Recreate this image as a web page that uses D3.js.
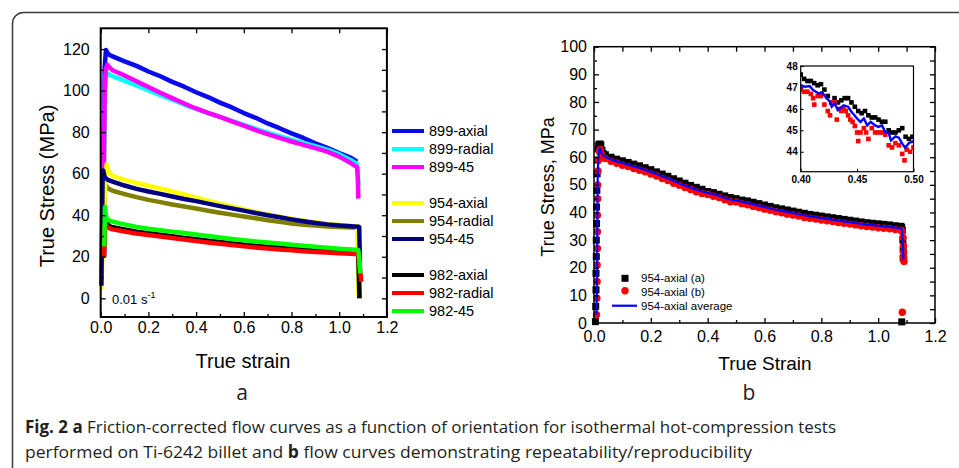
<!DOCTYPE html>
<html lang="en">
<head>
<meta charset="UTF-8">
<title>Fig. 2 flow curves</title>
<style>
  body { margin: 0; background: #fff; }
  svg text { font-family: "Liberation Sans", Arial, sans-serif; fill: #000; }
  .cap text, text.cap { font-family: "Open Sans", "Liberation Sans", sans-serif; fill: #231f20; }
</style>
</head>
<body>
<script src="https://d3js.org/d3.v7.min.js"></script>
<script>
// ---------- panel a : flow curves by orientation ----------
var grid = [0.05, 0.1, 0.15, 0.2, 0.25, 0.3, 0.35, 0.4, 0.45, 0.5, 0.55,
            0.6, 0.65, 0.7, 0.75, 0.8, 0.85, 0.9, 0.95, 1.0, 1.05];

var x899axial = [0.010, 0.013, 0.017, 0.022, 0.03, 0.04].concat(grid, [1.075]);
var y899axial = [30, 75, 112, 119.5, 117.8, 117,
  116.5, 114.1, 111.9, 109.2, 106.9, 104.2, 101.9, 99.2, 96.9, 94.2, 91.9,
  89.2, 86.9, 84.2, 81.9, 79.4, 77.2, 74.6, 72.4, 69.9, 67.6, 65.8];

var x899radial = [0.011, 0.014, 0.018, 0.023, 0.04].concat(grid, [1.075, 1.078, 1.081]);
var y899radial = [20, 65, 100, 108.5, 107.5,
  107.0, 104.8, 102.5, 100.2, 97.8, 95.6, 93.3, 91.2, 89.2, 87.3, 85.4,
  83.5, 81.6, 79.8, 78.1, 76.4, 74.8, 73.2, 71.6, 69.4, 66.5, 64.6, 60, 54];

var x899_45 = [0.011, 0.014, 0.017, 0.022, 0.028, 0.04].concat(grid, [1.075, 1.078, 1.08]);
var y899_45 = [20, 70, 102, 110.5, 112.5, 110.8,
  109.8, 107.3, 104.5, 101.7, 99.0, 96.4, 93.8, 91.4, 89.3, 87.3, 85.2,
  83.1, 81.0, 79.0, 77.2, 75.5, 73.9, 72.3, 70.6, 68.2, 65.0, 63.2, 58, 48];

var x954axial = [0.002, 0.008, 0.015, 0.021, 0.025, 0.032, 0.04].concat(grid, [1.075, 1.078, 1.08]);
var y954axial = [4, 22, 45, 60, 64.5, 61.5, 60,
  59.0, 57.0, 55.5, 54.2, 52.9, 51.5, 50.0, 48.5, 47.0, 45.6, 44.2,
  42.9, 41.6, 40.4, 39.3, 38.3, 37.4, 36.6, 35.9, 35.3, 34.9, 34.8, 20, 1];

var x954radial = [0.012, 0.016, 0.021, 0.03, 0.04].concat(grid, [1.08, 1.083, 1.085]);
var y954radial = [25, 50, 54.5, 53, 52.3,
  51.8, 50.2, 48.7, 47.4, 46.3, 45.2, 44.2, 43.2, 42.2, 41.2, 40.3,
  39.4, 38.5, 37.6, 36.8, 36.0, 35.4, 35.0, 34.6, 34.3, 34.1, 34.0, 15, 0];

var x954_45 = [0.003, 0.005, 0.008, 0.011, 0.015, 0.02, 0.03].concat(grid, [1.08, 1.084, 1.086, 1.087]);
var y954_45 = [6, 30, 58, 61.5, 59, 58, 57,
  56.2, 54.3, 52.7, 51.4, 50.3, 49.0, 47.8, 46.8, 45.6, 44.4, 43.3,
  42.2, 41.1, 40.0, 39.0, 38.0, 37.1, 36.3, 35.6, 35.1, 34.7, 34.5, 34.3, 22, 13];

var x982axial = [0.014, 0.017, 0.021, 0.03, 0.04].concat(grid, [1.08, 1.083, 1.085]);
var y982axial = [20, 35, 37, 35.5, 34.6,
  34.2, 33.1, 32.1, 31.3, 30.6, 29.9, 29.1, 28.4, 27.7, 27.1, 26.4,
  25.8, 25.3, 24.7, 24.3, 23.8, 23.4, 23.0, 22.7, 22.4, 22.1, 21.9, 8, 0];

var x982radial = [0.014, 0.017, 0.02, 0.025, 0.04].concat(grid, [1.08, 1.086, 1.093]);
var y982radial = [20, 35, 36, 34.5, 33.6,
  33.2, 32.2, 31.2, 30.5, 29.8, 29.0, 28.3, 27.6, 26.9, 26.3, 25.6,
  25.0, 24.5, 24.0, 23.5, 23.1, 22.7, 22.3, 22.0, 21.7, 21.4, 21.2, 15, 8];

var x982_45 = [0.015, 0.018, 0.02, 0.025, 0.03, 0.04].concat(grid, [1.08, 1.085, 1.088]);
var y982_45 = [25, 44, 41, 38.5, 37.8, 37.3,
  36.9, 35.6, 34.4, 33.5, 32.8, 32.1, 31.4, 30.7, 30.0, 29.3, 28.6,
  28.0, 27.4, 26.9, 26.4, 25.8, 25.3, 24.8, 24.3, 23.9, 23.5, 23.3, 18, 12];

var legendA = ["899-axial", "899-radial", "899-45", "954-axial", "954-radial", "954-45",
               "982-axial", "982-radial", "982-45"];
var colorsA = ["#0a0aee", "#00ffff", "#ff00ff", "#ffff00", "#808000", "#000080",
               "#000000", "#ff0000", "#00ff00"];

var xTicksA = [0, 0.2, 0.4, 0.6, 0.8, 1.0, 1.2];
var xMinorA = [0.1, 0.3, 0.5, 0.7, 0.9, 1.1];
var yTicksA = [0, 20, 40, 60, 80, 100, 120];
var yMinorA = [10, 30, 50, 70, 90, 110];

// ---------- panel b : repeatability ----------
var gridB = [0.04, 0.06, 0.08, 0.10, 0.12, 0.14, 0.16, 0.18, 0.20, 0.22, 0.24, 0.26, 0.28,
  0.30, 0.32, 0.34, 0.36, 0.38, 0.40, 0.42, 0.44, 0.46, 0.48, 0.50, 0.52, 0.54, 0.56,
  0.58, 0.60, 0.62, 0.64, 0.66, 0.68, 0.70, 0.72, 0.74, 0.76, 0.78, 0.80, 0.82, 0.84,
  0.86, 0.88, 0.90, 0.92, 0.94, 0.96, 0.98, 1.00, 1.02, 1.04, 1.06, 1.08];

var strainA = [0.005, 0.006, 0.007, 0.007, 0.008, 0.008, 0.009, 0.009, 0.010, 0.011, 0.012,
  0.014, 0.017, 0.020, 0.024, 0.028, 0.032].concat(gridB, [1.083, 1.085, 1.087, 1.088, 1.088, 1.083]);
var stressA = [0.5, 6, 12, 18, 24, 30, 36, 42, 48, 54, 59, 63, 64.5, 64.8, 64.5, 62.5, 61.3,
  60.9, 60.0, 59.3, 58.7, 58.1, 57.5, 56.9, 56.2, 55.5, 54.7, 53.9, 53.1, 52.2, 51.4,
  50.6, 49.8, 49.1, 48.4, 47.6, 47.2, 46.6, 46.0, 45.4, 45.0, 44.5, 44.2, 43.7, 43.2,
  42.7, 42.2, 41.7, 41.3, 40.9, 40.5, 40.1, 39.7, 39.3, 39.0, 38.7, 38.4, 38.1, 37.8,
  37.5, 37.2, 36.9, 36.6, 36.3, 36.1, 35.9, 35.7, 35.5, 35.2, 35.0,
  34.6, 33.5, 30, 26.5, 23.5, 0.4];

var strainB = [0.009, 0.010, 0.011, 0.011, 0.012, 0.012, 0.012, 0.013, 0.013, 0.014, 0.016,
  0.019, 0.022, 0.026, 0.030].concat(gridB, [1.084, 1.087, 1.089, 1.090, 1.090, 1.091, 1.085]);
var stressB = [3, 9, 15, 21, 27, 33, 39, 45, 50, 55, 59, 62, 62.8, 61, 59.8,
  59.5, 58.5, 57.8, 57.1, 56.6, 55.9, 55.3, 54.7, 53.9, 53.2, 52.3, 51.6, 50.6, 49.9,
  49.0, 48.3, 47.5, 46.9, 46.5, 45.9, 45.4, 44.6, 43.9, 43.8, 43.2, 42.8, 42.2, 41.8,
  41.2, 40.8, 40.3, 39.9, 39.4, 39.1, 38.7, 38.2, 37.9, 37.6, 37.3, 37.0, 36.7, 36.4,
  36.1, 35.8, 35.5, 35.2, 34.9, 34.7, 34.5, 34.3, 34.1, 33.8, 33.6,
  33.2, 31, 28, 25.5, 23.5, 22.3, 3.9];

var strainAvg = [0.009, 0.011, 0.012, 0.013, 0.015, 0.018, 0.021, 0.025, 0.03].concat(gridB, [1.084, 1.087, 1.089]);
var stressAvg = [3, 20, 40, 52, 59, 62.5, 63.6, 61.8, 60.8,
  60.2, 59.2, 58.5, 57.9, 57.3, 56.7, 56.1, 55.4, 54.7, 53.9, 53.1, 52.3, 51.4, 50.6,
  49.8, 49.0, 48.3, 47.6, 47.1, 46.6, 46.1, 45.3, 44.6, 44.4, 43.9, 43.5, 43.0, 42.5,
  42.0, 41.5, 41.0, 40.6, 40.2, 39.8, 39.4, 39.0, 38.6, 38.3, 38.0, 37.7, 37.4, 37.1,
  36.8, 36.5, 36.2, 35.9, 35.6, 35.4, 35.2, 35.0, 34.8, 34.5, 34.3,
  33.6, 28, 23];

// inset 0.40 - 0.50
var insetStrainA = [0.400, 0.403, 0.406, 0.409, 0.412, 0.415, 0.418, 0.421, 0.424, 0.427,
  0.430, 0.433, 0.436, 0.439, 0.442, 0.445, 0.448, 0.451, 0.454, 0.457, 0.460, 0.463,
  0.466, 0.469, 0.472, 0.475, 0.478, 0.481, 0.484, 0.487, 0.490, 0.493, 0.496, 0.499];
var insetStressA = [47.6, 47.4, 47.3, 47.3, 47.2, 47.1, 47.15, 46.9, 46.6, 46.3,
  46.5, 46.3, 46.4, 46.5, 46.5, 46.3, 46.1, 45.9, 45.8, 45.9, 45.7, 45.6,
  45.6, 45.5, 45.4, 45.4, 45.0, 44.9, 44.9, 45.0, 45.1, 44.7, 44.6, 44.7];
var insetStrainB = [0.400, 0.403, 0.406, 0.409, 0.411, 0.412, 0.415, 0.418, 0.421, 0.424,
  0.426, 0.428, 0.430, 0.432, 0.434, 0.436, 0.438, 0.440, 0.442, 0.444, 0.446, 0.448,
  0.450, 0.451, 0.453, 0.456, 0.458, 0.460, 0.463, 0.466, 0.469, 0.472, 0.475, 0.478,
  0.481, 0.484, 0.487, 0.490, 0.492, 0.494, 0.497, 0.500];
var insetStressB = [46.9, 46.8, 46.8, 46.7, 46.5, 46.2, 46.6, 46.6, 46.2, 45.9,
  45.7, 46.3, 46.3, 45.5, 46.0, 45.9, 46.0, 45.9, 45.7, 45.5, 45.4, 45.2,
  44.9, 44.5, 44.9, 45.1, 44.9, 44.6, 45.1, 44.9, 44.9, 44.9, 44.8, 44.3,
  44.2, 44.4, 44.3, 43.9, 43.6, 44.1, 44.0, 44.2];
var insetStrainAvg = [0.400, 0.404, 0.408, 0.411, 0.416, 0.419, 0.422, 0.426, 0.4275, 0.430,
  0.433, 0.438, 0.442, 0.445, 0.450, 0.453, 0.456, 0.459, 0.462, 0.466,
  0.469, 0.472, 0.475, 0.478, 0.480, 0.484, 0.487, 0.490, 0.4926, 0.496, 0.500];
var insetStressAvg = [47.11, 47.03, 47.06, 46.88, 46.72, 46.78, 46.56, 46.33, 46.1, 46.25,
  45.94, 46.17, 46.1, 45.86, 45.55, 45.39, 45.55, 45.23, 45.39, 45.23,
  45.16, 45.23, 44.92, 44.88, 44.53, 44.72, 44.66, 44.38, 44.19, 44.41, 44.5];

var legendB = ["954-axial (a)", "954-axial (b)", "954-axial average"];

var xTicksB = [0, 0.2, 0.4, 0.6, 0.8, 1.0, 1.2];
var xMinorB = [0.1, 0.3, 0.5, 0.7, 0.9, 1.1];
var yTicksB = [0, 10, 20, 30, 40, 50, 60, 70, 80, 90, 100];
var yMinorB = [5, 15, 25, 35, 45, 55, 65, 75, 85, 95];
var xTicksInset = [0.40, 0.45, 0.50];
var yTicksInset = [44, 45, 46, 47, 48];

var captionLine1 = ["Fig. 2 a", " Friction-corrected flow curves as a function of orientation for isothermal hot-compression tests"];
var captionLine2 = ["performed on Ti-6242 billet and ", "b", " flow curves demonstrating repeatability/reproducibility"];

// ---------- drawing ----------
var svg = d3.select("body").append("svg")
    .attr("width", 959).attr("height", 468)
    .style("display", "block");

// rounded frame, cut off at the right and bottom
svg.append("rect")
    .attr("x", 12.5).attr("y", 12.5)
    .attr("width", 980).attr("height", 490)
    .attr("rx", 11)
    .attr("fill", "none").attr("stroke", "#3a3a3a").attr("stroke-width", 1.5);

// draws the four inward-ticked sides of a plot box
function boxAxes(g, x, y, o) {
    function clean(sel) {
        sel.select(".domain").remove();
        sel.selectAll("line").attr("stroke", "#000").attr("stroke-width", 1.3);
        sel.selectAll("text").attr("font-size", o.font).attr("font-family", null).attr("fill", "#000");
    }
    var r = x.range(), h = y.range();
    g.append("g").attr("transform", "translate(0," + h[0] + ")")
        .call(d3.axisBottom(x).tickValues(o.xMajor).tickSizeInner(-5).tickSizeOuter(0)
            .tickPadding(o.padX).tickFormat(d3.format(".1f"))).call(clean);
    g.append("g").attr("transform", "translate(0," + h[0] + ")")
        .call(d3.axisBottom(x).tickValues(o.xMinor).tickSizeInner(-3).tickSizeOuter(0).tickFormat("")).call(clean);
    g.append("g").attr("transform", "translate(0," + h[1] + ")")
        .call(d3.axisTop(x).tickValues(o.xTop).tickSizeInner(-5).tickSizeOuter(0).tickFormat("")).call(clean);
    g.append("g").attr("transform", "translate(" + r[0] + ",0)")
        .call(d3.axisLeft(y).tickValues(o.yMajor).tickSizeInner(-5).tickSizeOuter(0)
            .tickPadding(o.padY).tickFormat(d3.format("d"))).call(clean);
    g.append("g").attr("transform", "translate(" + r[0] + ",0)")
        .call(d3.axisLeft(y).tickValues(o.yMinor).tickSizeInner(-3).tickSizeOuter(0).tickFormat("")).call(clean);
    g.append("g").attr("transform", "translate(" + r[1] + ",0)")
        .call(d3.axisRight(y).tickValues(o.yMajor.concat(o.yMinor)).tickSizeInner(-5).tickSizeOuter(0).tickFormat("")).call(clean);
    g.append("rect")
        .attr("x", r[0]).attr("y", h[1])
        .attr("width", r[1] - r[0]).attr("height", h[0] - h[1])
        .attr("fill", "none").attr("stroke", "#000").attr("stroke-width", o.box);
}

// ---- panel a ----
var xA = d3.scaleLinear().domain([0, 1.2]).range([100.7, 386.9]);
var yA = d3.scaleLinear().domain([-9, 130]).range([317, 28.3]);
var lineA = d3.line().x(function(d) { return xA(d[0]); }).y(function(d) { return yA(d[1]); });

var curvesA = [
    [x899axial, y899axial, 0], [x899radial, y899radial, 1], [x899_45, y899_45, 2],
    [x954radial, y954radial, 4], [x954axial, y954axial, 3], [x954_45, y954_45, 5],
    [x982axial, y982axial, 6], [x982radial, y982radial, 7], [x982_45, y982_45, 8]
];
var gA = svg.append("g");
curvesA.forEach(function(c) {
    gA.append("path")
        .datum(d3.zip(c[0], c[1]))
        .attr("d", lineA)
        .attr("fill", "none")
        .attr("stroke", colorsA[c[2]])
        .attr("stroke-width", 4.5)
        .attr("stroke-linejoin", "round");
});

boxAxes(gA, xA, yA, { xMajor: xTicksA, xMinor: xMinorA, xTop: xTicksA, yMajor: yTicksA, yMinor: yMinorA,
                      font: 16, padX: 5, padY: 11, box: 2 });

gA.append("text").attr("x", 112).attr("y", 304).attr("font-size", 13)
    .text("0.01 s").append("tspan").attr("dy", -6).attr("font-size", 9).text("-1");

gA.append("text").attr("x", 243).attr("y", 368).attr("text-anchor", "middle")
    .attr("font-size", 20).text("True strain");
gA.append("text").attr("transform", "translate(54,186) rotate(-90)")
    .attr("text-anchor", "middle").attr("font-size", 20).text("True Stress (MPa)");

// legend a
var legA = gA.selectAll("g.leg").data(legendA).enter().append("g").attr("class", "leg")
    .attr("transform", function(d, i) {
        return "translate(392," + (131 + Math.floor(i / 3) * 72 + (i % 3) * 18) + ")";
    });
legA.append("line").attr("x1", 0).attr("x2", 32).attr("y1", 0).attr("y2", 0)
    .attr("stroke", function(d, i) { return colorsA[i]; }).attr("stroke-width", 4);
legA.append("text").attr("x", 37).attr("dy", "0.35em").attr("font-size", 14.5)
    .text(function(d) { return d; });

// ---- panel b ----
var xB = d3.scaleLinear().domain([0, 1.2]).range([594, 935]);
var yB = d3.scaleLinear().domain([0, 100]).range([323, 46.7]);
var gB = svg.append("g");

gB.append("g").selectAll("rect").data(d3.zip(strainA, stressA)).enter().append("rect")
    .attr("x", function(d) { return xB(d[0]) - 3.5; })
    .attr("y", function(d) { return yB(d[1]) - 3.5; })
    .attr("width", 7).attr("height", 7).attr("fill", "#000");
gB.append("g").selectAll("circle").data(d3.zip(strainB, stressB)).enter().append("circle")
    .attr("cx", function(d) { return xB(d[0]); })
    .attr("cy", function(d) { return yB(d[1]); })
    .attr("r", 3.7).attr("fill", "#ff0000");
gB.append("path")
    .datum(d3.zip(strainAvg, stressAvg))
    .attr("d", d3.line().x(function(d) { return xB(d[0]); }).y(function(d) { return yB(d[1]); }))
    .attr("fill", "none").attr("stroke", "#0000ff").attr("stroke-width", 2.2);

boxAxes(gB, xB, yB, { xMajor: xTicksB, xMinor: xMinorB, xTop: xTicksB.concat(xMinorB), yMajor: yTicksB, yMinor: yMinorB,
                      font: 16, padX: 8, padY: 7, box: 1.5 });

gB.append("text").attr("x", 765).attr("y", 370).attr("text-anchor", "middle")
    .attr("font-size", 19).text("True Strain");
gB.append("text").attr("transform", "translate(554,187) rotate(-90)")
    .attr("text-anchor", "middle").attr("font-size", 18).text("True Stress, MPa");

// legend b
gB.append("rect").attr("x", 621.5).attr("y", 274.8).attr("width", 7).attr("height", 7).attr("fill", "#000");
gB.append("circle").attr("cx", 625).attr("cy", 290.7).attr("r", 3.7).attr("fill", "#ff0000");
gB.append("line").attr("x1", 612).attr("x2", 637).attr("y1", 305.7).attr("y2", 305.7)
    .attr("stroke", "#0000ff").attr("stroke-width", 2.2);
gB.selectAll("text.legb").data(legendB).enter().append("text").attr("class", "legb")
    .attr("x", 641).attr("y", function(d, i) { return 278.3 + i * 13.7; })
    .attr("dy", "0.35em").attr("font-size", 11.5).attr("fill", "#222")
    .text(function(d) { return d; });

// inset
var xI = d3.scaleLinear().domain([0.40, 0.50]).range([800.7, 913.5]);
var yI = d3.scaleLinear().domain([43.07, 48]).range([171.7, 66]);
var gI = svg.append("g");
gI.append("rect").attr("x", 800.7).attr("y", 66).attr("width", 112.8).attr("height", 105.7).attr("fill", "#fff");
svg.append("clipPath").attr("id", "insetClip").append("rect")
    .attr("x", 800.7).attr("y", 66).attr("width", 112.8).attr("height", 105.7);
var gIn = gI.append("g").attr("clip-path", "url(#insetClip)");
gIn.selectAll("rect.a").data(d3.zip(insetStrainA, insetStressA)).enter().append("rect").attr("class", "a")
    .attr("x", function(d) { return xI(d[0]) - 2.3; })
    .attr("y", function(d) { return yI(d[1]) - 2.3; })
    .attr("width", 4.6).attr("height", 4.6).attr("fill", "#000");
gIn.selectAll("rect.b").data(d3.zip(insetStrainB, insetStressB)).enter().append("rect").attr("class", "b")
    .attr("x", function(d) { return xI(d[0]) - 2.3; })
    .attr("y", function(d) { return yI(d[1]) - 2.3; })
    .attr("width", 4.6).attr("height", 4.6).attr("fill", "#ff0000");
gIn.append("path")
    .datum(d3.zip(insetStrainAvg, insetStressAvg))
    .attr("d", d3.line().x(function(d) { return xI(d[0]); }).y(function(d) { return yI(d[1]); }))
    .attr("fill", "none").attr("stroke", "#0000ff").attr("stroke-width", 2.4);

function cleanInset(sel) {
    sel.select(".domain").remove();
    sel.selectAll("line").attr("stroke", "#000");
    sel.selectAll("text").attr("font-size", 10).attr("font-weight", "bold").attr("font-family", null).attr("fill", "#000");
}
gI.append("g").attr("transform", "translate(0,171.7)")
    .call(d3.axisBottom(xI).tickValues(xTicksInset).tickSizeInner(-3).tickSizeOuter(0)
        .tickPadding(4).tickFormat(d3.format(".2f"))).call(cleanInset);
gI.append("g").attr("transform", "translate(800.7,0)")
    .call(d3.axisLeft(yI).tickValues(yTicksInset).tickSizeInner(-3).tickSizeOuter(0)
        .tickPadding(3).tickFormat(d3.format("d"))).call(cleanInset);
gI.append("rect").attr("x", 800.7).attr("y", 66).attr("width", 112.8).attr("height", 105.7)
    .attr("fill", "none").attr("stroke", "#000").attr("stroke-width", 1.2);

// panel letters
svg.append("text").attr("class", "cap").attr("x", 242).attr("y", 400).attr("text-anchor", "middle")
    .attr("font-size", 21).text("a");
svg.append("text").attr("class", "cap").attr("x", 749).attr("y", 400).attr("text-anchor", "middle")
    .attr("font-size", 21).text("b");

// caption
var cap = svg.append("g").attr("class", "cap");
var l1 = cap.append("text").attr("x", 25).attr("y", 433).attr("font-size", 17)
    .attr("textLength", 811).attr("lengthAdjust", "spacingAndGlyphs");
l1.append("tspan").attr("font-weight", "bold").text(captionLine1[0]);
l1.append("tspan").text(captionLine1[1]);
var l2 = cap.append("text").attr("x", 25).attr("y", 458).attr("font-size", 17)
    .attr("textLength", 727).attr("lengthAdjust", "spacingAndGlyphs");
l2.append("tspan").text(captionLine2[0]);
l2.append("tspan").attr("font-weight", "bold").text(captionLine2[1]);
l2.append("tspan").text(captionLine2[2]);
</script>
</body>
</html>
